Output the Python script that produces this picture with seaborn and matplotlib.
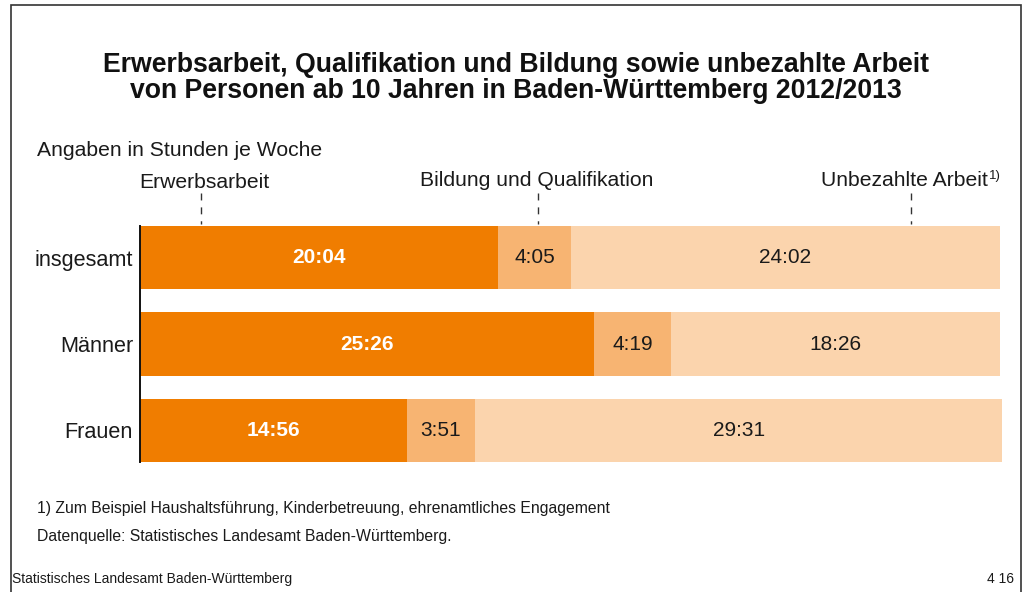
import matplotlib
matplotlib.use("Agg")
import matplotlib.pyplot as plt
import seaborn as sns
import pandas as pd
from matplotlib.patches import Rectangle
from matplotlib.lines import Line2D

# ---- data ----
groups = ["insgesamt", "Männer", "Frauen"]
erwerb = ["20:04", "25:26", "14:56"]
bildung = ["4:05", "4:19", "3:51"]
unbezahlt = ["24:02", "18:26", "29:31"]
series_names = ["Erwerbsarbeit", "Bildung und Qualifikation", "Unbezahlte Arbeit"]
title = ("Erwerbsarbeit, Qualifikation und Bildung sowie unbezahlte Arbeit\n"
         "von Personen ab 10 Jahren in Baden-Württemberg 2012/2013")
unit_note = "Angaben in Stunden je Woche"
footnote = "1) Zum Beispiel Haushaltsführung, Kinderbetreuung, ehrenamtliches Engagement"
source = "Datenquelle: Statistisches Landesamt Baden-Württemberg."
footer_left = "Statistisches Landesamt Baden-Württemberg"
footer_right = "4 16"

def to_h(s):
    h, m = s.split(":")
    return int(h) + int(m) / 60.0

e = [to_h(s) for s in erwerb]
b = [to_h(s) for s in bildung]
u = [to_h(s) for s in unbezahlt]
cum1 = e
cum2 = [x + y for x, y in zip(e, b)]
cum3 = [x + y + z for x, y, z in zip(e, b, u)]

df = pd.DataFrame({"group": groups, "c1": cum1, "c2": cum2, "c3": cum3})

c_dark = "#F07D00"
c_mid = "#F7B472"
c_light = "#FBD4AD"

sns.set_theme(style="white")
plt.rcParams["font.family"] = ["Liberation Sans", "DejaVu Sans"]

W, H = 1029, 592
fig = plt.figure(figsize=(W / 100, H / 100), dpi=100)

ax_left, ax_right = 140, 1002
ax_top, ax_bot = 226, 462
ax = fig.add_axes([ax_left / W, 1 - ax_bot / H, (ax_right - ax_left) / W, (ax_bot - ax_top) / H])

bh = 0.73
sns.barplot(data=df, y="group", x="c3", color=c_light, orient="h", width=bh, ax=ax, saturation=1)
sns.barplot(data=df, y="group", x="c2", color=c_mid, orient="h", width=bh, ax=ax, saturation=1)
sns.barplot(data=df, y="group", x="c1", color=c_dark, orient="h", width=bh, ax=ax, saturation=1)

for p in ax.patches:
    p.set_linewidth(0)

ax.set_xlim(0, max(cum3))
ax.set_ylim(2 + bh / 2, -bh / 2)
ax.set_xlabel("")
ax.set_ylabel("")
ax.set_xticks([])
for s in ["top", "right", "bottom"]:
    ax.spines[s].set_visible(False)
ax.spines["left"].set_color("#111111")
ax.spines["left"].set_linewidth(1.4)
ax.tick_params(axis="y", length=0, pad=5, labelsize=15.6, labelcolor="#1a1a1a")

for i in range(len(groups)):
    ax.text(cum1[i] / 2, i, erwerb[i], ha="center", va="center", color="white",
            fontsize=15, fontweight="bold")
    ax.text((cum1[i] + cum2[i]) / 2, i, bildung[i], ha="center", va="center",
            color="#1a1a1a", fontsize=15)
    ax.text((cum2[i] + cum3[i]) / 2, i, unbezahlt[i], ha="center", va="center",
            color="#1a1a1a", fontsize=15)

def fx(px):
    return px / W

def fy(py):
    return 1 - py / H

# frame
fig.add_artist(Rectangle((fx(11), fy(598)), fx(1021 - 11), (598 - 5) / H,
                         transform=fig.transFigure, fill=False,
                         edgecolor="#333333", linewidth=1.2))

fig.text(fx(516), fy(78), title, ha="center", va="center", fontsize=19.2,
         fontweight="bold", color="#111111", linespacing=1.0)
fig.text(fx(37), fy(151), unit_note, ha="left", va="center", fontsize=15.2, color="#1a1a1a")

# series labels with dashed markers
fig.text(fx(204), fy(183), series_names[0], ha="center", va="center", fontsize=15.2, color="#1a1a1a")
fig.text(fx(537), fy(181), series_names[1], ha="center", va="center", fontsize=15.2, color="#1a1a1a")
fig.text(fx(988), fy(181), series_names[2], ha="right", va="center", fontsize=15.2, color="#1a1a1a")
fig.text(fx(989), fy(176), "1)", ha="left", va="center", fontsize=9.5, color="#1a1a1a")
for xm, y0 in [(201, 193), (538, 193), (911, 193)]:
    fig.add_artist(Line2D([fx(xm), fx(xm)], [fy(y0), fy(224)], transform=fig.transFigure,
                          color="#333333", linewidth=1.0, linestyle=(0, (5, 5))))

fig.text(fx(37), fy(509), footnote, ha="left", va="center", fontsize=11.3, color="#1a1a1a")
fig.text(fx(37), fy(537), source, ha="left", va="center", fontsize=11.3, color="#1a1a1a")
fig.text(fx(12), fy(579), footer_left, ha="left", va="center", fontsize=10, color="#1a1a1a")
fig.text(fx(1014), fy(579), footer_right, ha="right", va="center", fontsize=10, color="#1a1a1a")

fig.savefig("out.png", dpi=100)
